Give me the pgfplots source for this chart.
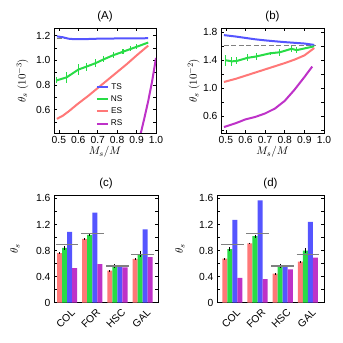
\documentclass[border=0pt]{standalone}
\usepackage{pgfplots}
\pgfplotsset{compat=1.18}
\usepackage{fontspec}
\setmainfont{Liberation Sans}
\definecolor{cTS}{RGB}{85,85,255}
\definecolor{cNS}{RGB}{40,220,70}
\definecolor{cES}{RGB}{255,120,120}
\definecolor{cRS}{RGB}{190,50,200}
\definecolor{cref}{RGB}{128,128,128}
\pgfplotsset{
  panel/.style={scale only axis, anchor=south west, clip=true,
    tick align=inside, major tick length=3pt, minor tick length=3pt,
    every tick/.style={black, line width=0.6pt},
    axis line style={line width=0.8pt},
    tick label style={font=\fontsize{10.3}{11}\selectfont},
    /pgf/number format/assume math mode=true,
    title style={font=\fontsize{11.5}{13}\selectfont, yshift=-3pt},
    label style={font=\fontsize{11}{13}\selectfont}},
  linepanel/.style={panel, xmin=0.475, xmax=1.0,
    xtick={0.5,0.6,0.7,0.8,0.9,1.0},
    xticklabel style={/pgf/number format/.cd,fixed,fixed zerofill,precision=1},
    yticklabel style={/pgf/number format/.cd,fixed,fixed zerofill,precision=1},
    xlabel={$M_s/M$},
    xlabel style={at={(axis description cs:0.5,-0.18)}, anchor=center},
    every axis plot/.append style={line width=2pt}},
  barpanel/.style={panel, ymin=0, ymax=1.64,
    xtick={0,1,2,3}, xticklabels={COL,FOR,HSC,GAL},
    xtick style={draw=none},
    xticklabel style={rotate=45, anchor=north east, xshift=2pt, yshift=-3pt},
    ytick={0,0.4,0.8,1.2,1.6}, yticklabels={0,0.4,0.8,1.2,1.6},
    minor ytick={0.2,0.6,1.0,1.4},
    ylabel={$\theta_s$}},
  nserr/.style={error bars/.cd, y dir=both, y explicit, error mark=none,
    error bar style={cNS, line width=1.1pt}},
  bar/.style={ybar, bar width=0.2, bar shift=0pt, draw=none, fill=#1},
  berr/.style={error bars/.cd, y dir=both, y explicit, error mark=none,
    error bar style={black, line width=1pt}},
  refl/.style={cref, line width=1.5pt},
  dashref/.style={cref, line width=1.1pt, dash pattern=on 5pt off 2.5pt},
}
\begin{document}
\begin{tikzpicture}[x=1pt,y=1pt]
\useasboundingbox (0,0) rectangle (343,343);
% (A)
\begin{axis}[linepanel, at={(54pt,210pt)}, width=102pt, height=105pt,
  ymin=0.41, ymax=1.263, ytick={0.6,0.8,1.0,1.2}, minor ytick={0.5,0.7,0.9,1.1},
  title={(A)}, ylabel={$\theta_s\ (10^{-3})$},
  ylabel style={at={(axis description cs:-0.31,0.5)}, anchor=center},
  legend style={draw=none, fill=none, at={(0.38,0.51)}, anchor=north west,
    font=\fontsize{8.3}{9}\selectfont, row sep=0.8pt},
  legend image code/.code={\draw[#1,line width=2pt] (0pt,0pt) -- (11pt,0pt);}]
\addplot[dashref, forget plot] coordinates {(0.49,1.18) (0.96,1.18)};
\addplot[cTS] coordinates {(0.49,1.195) (0.52,1.188) (0.55,1.176) (0.58,1.172) (0.62,1.172) (0.66,1.174) (0.70,1.176) (0.75,1.177) (0.80,1.178) (0.85,1.178) (0.90,1.179) (0.96,1.180)};
\addlegendentry{TS}
\addplot[cNS, nserr] coordinates {(0.49,0.838) +- (0,0.025) (0.54,0.862) +- (0,0.047) (0.60,0.925) +- (0,0.045) (0.64,0.948) +- (0,0.032) (0.69,0.978) +- (0,0.030) (0.73,1.008) +- (0,0.025) (0.78,1.042) +- (0,0.025) (0.83,1.070) +- (0,0.020) (0.87,1.093) +- (0,0.020) (0.90,1.110) +- (0,0.020) (0.96,1.145) +- (0,0)};
\addlegendentry{NS}
\addplot[cES] coordinates {(0.49,0.525) (0.52,0.550) (0.55,0.585) (0.60,0.650) (0.65,0.710) (0.70,0.775) (0.75,0.840) (0.80,0.905) (0.85,0.970) (0.90,1.040) (0.96,1.120)};
\addlegendentry{ES}
\addplot[cRS] coordinates {(0.91,0.33) (0.922,0.41) (0.94,0.53) (0.96,0.67) (0.98,0.83) (1.0,1.02)};
\addlegendentry{RS}
\end{axis}
% (b)
\begin{axis}[linepanel, at={(221pt,210pt)}, width=103pt, height=105pt,
  ymin=0.36, ymax=1.862, ytick={0.6,1.0,1.4,1.8}, minor ytick={0.4,0.8,1.2,1.6},
  title={(b)}, ylabel={$\theta_s\ (10^{-2})$},
  ylabel style={at={(axis description cs:-0.265,0.5)}, anchor=center}]
\addplot[dashref] coordinates {(0.49,1.615) (0.96,1.615)};
\addplot[cTS] coordinates {(0.49,1.76) (0.55,1.74) (0.60,1.72) (0.65,1.70) (0.70,1.685) (0.75,1.672) (0.80,1.66) (0.85,1.65) (0.90,1.64) (0.95,1.62)};
\addplot[cNS, nserr] coordinates {(0.50,1.40) +- (0,0.075) (0.53,1.385) +- (0,0.06) (0.555,1.39) +- (0,0.05) (0.61,1.435) +- (0,0.05) (0.655,1.455) +- (0,0.055) (0.725,1.50) +- (0,0.02) (0.775,1.515) +- (0,0.05) (0.835,1.565) +- (0,0.04) (0.86,1.545) +- (0,0.045) (0.95,1.60) +- (0,0)};
\addplot[cES] coordinates {(0.49,1.09) (0.55,1.135) (0.60,1.18) (0.65,1.225) (0.70,1.27) (0.75,1.315) (0.80,1.36) (0.85,1.41) (0.90,1.47) (0.95,1.575)};
\addplot[cRS] coordinates {(0.49,0.445) (0.55,0.50) (0.60,0.555) (0.65,0.59) (0.70,0.64) (0.75,0.71) (0.80,0.82) (0.85,0.98) (0.90,1.16) (0.94,1.31)};
\end{axis}
% (c)
\begin{axis}[barpanel, at={(54pt,40.3pt)}, width=104pt, height=107pt,
  xmin=-0.52, xmax=3.61, title={(c)},
  ylabel style={at={(axis description cs:-0.375,0.5)}, anchor=center}]
\addplot[bar=cES, berr] coordinates {(-0.3,0.76) +- (0,0.01) (0.7,0.98) +- (0,0.01) (1.7,0.49) +- (0,0.01) (2.7,0.67) +- (0,0.01)};
\addplot[bar=cNS, berr] coordinates {(-0.1,0.84) +- (0,0.03) (0.9,1.04) +- (0,0.02) (1.9,0.565) +- (0,0.03) (2.9,0.745) +- (0,0.04)};
\addplot[bar=cTS] coordinates {(0.1,1.085) (1.1,1.38) (2.1,0.56) (3.1,1.125)};
\addplot[bar=cRS] coordinates {(0.3,0.53) (1.3,0.59) (2.3,0.54) (3.3,0.70)};
\addplot[refl] coordinates {(-0.45,0.89) (0.45,0.89)};
\addplot[refl] coordinates {(0.55,1.06) (1.45,1.06)};
\addplot[refl] coordinates {(1.55,0.565) (2.45,0.565)};
\addplot[refl] coordinates {(2.55,0.74) (3.45,0.74)};
\end{axis}
% (d)
\begin{axis}[barpanel, at={(217pt,40.3pt)}, width=107pt, height=107pt,
  xmin=-0.61, xmax=3.64, title={(d)},
  ylabel style={at={(axis description cs:-0.346,0.5)}, anchor=center}]
\addplot[bar=cES, berr] coordinates {(-0.3,0.675) +- (0,0.01) (0.7,0.91) +- (0,0.01) (1.7,0.445) +- (0,0.01) (2.7,0.63) +- (0,0.01)};
\addplot[bar=cNS, berr] coordinates {(-0.1,0.82) +- (0,0.03) (0.9,1.02) +- (0,0.025) (1.9,0.565) +- (0,0.035) (2.9,0.80) +- (0,0.035)};
\addplot[bar=cTS] coordinates {(0.1,1.27) (1.1,1.57) (2.1,0.56) (3.1,1.24)};
\addplot[bar=cRS] coordinates {(0.3,0.38) (1.3,0.36) (2.3,0.51) (3.3,0.69)};
\addplot[refl] coordinates {(-0.45,0.89) (0.45,0.89)};
\addplot[refl] coordinates {(0.55,1.06) (1.45,1.06)};
\addplot[refl] coordinates {(1.55,0.565) (2.45,0.565)};
\addplot[refl] coordinates {(2.55,0.74) (3.45,0.74)};
\end{axis}
\end{tikzpicture}
\end{document}
